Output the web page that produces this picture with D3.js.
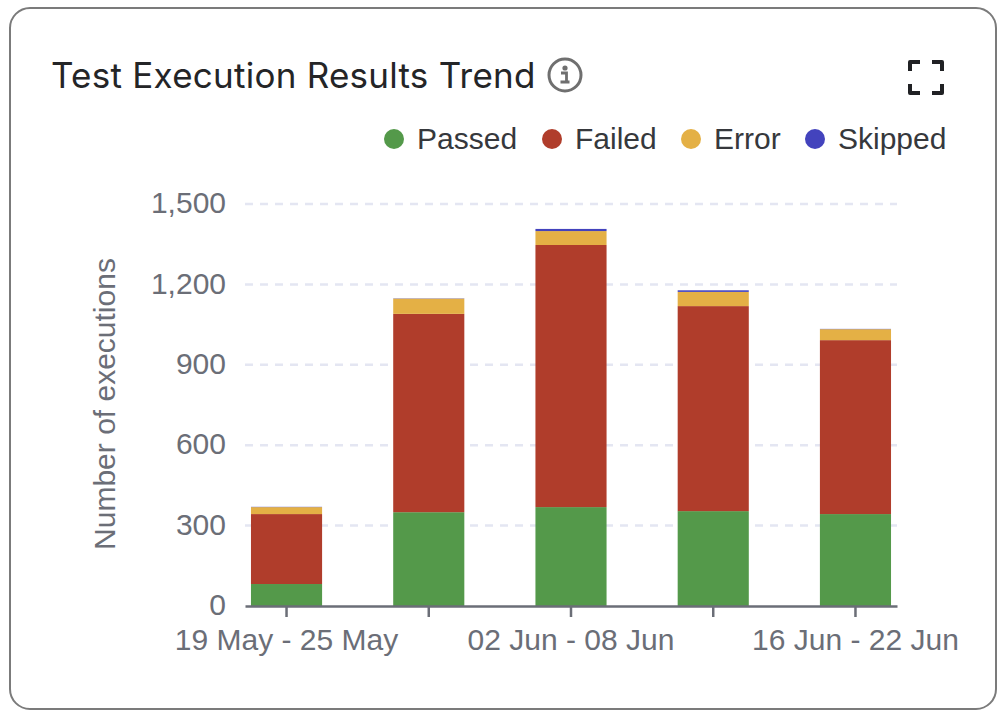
<!DOCTYPE html>
<html>
<head>
<meta charset="utf-8">
<script src="https://cdn.jsdelivr.net/npm/d3@7"></script>
<style>
  html, body { margin: 0; padding: 0; background: #fff; }
  svg { display: block; }
  text { font-family: "Liberation Sans", Arial, sans-serif; }
  .title { font-family: Inter, "Noto Sans", sans-serif; font-size: 35px; font-weight: 400; letter-spacing: 0.25px; fill: #242527; }
  .legend-label { font-size: 30px; fill: #36383c; }
  .axis-label { font-size: 30px; fill: #6b6e77; }
  .axis text { font-size: 30px; fill: #6b6e77; }
</style>
</head>
<body>
<div id="chart"></div>
<script>
var weeks = ['19 May - 25 May', '26 May - 01 Jun', '02 Jun - 08 Jun', '09 Jun - 15 Jun', '16 Jun - 22 Jun'];
var passed = [82, 350, 369, 354, 343];
var failed = [261, 740, 978, 765, 649];
var errors = [26, 57, 52, 53, 41];
var skipped = [1, 1, 8, 6, 1];
var yTicks = [0, 300, 600, 900, 1200, 1500];
var seriesNames = ['Passed', 'Failed', 'Error', 'Skipped'];
var seriesColors = ['#54994a', '#b03d2b', '#e4b045', '#4343bd'];

var width = 1004;
var height = 718;
var margin = {left: 245, right: 107, top: 204, bottom: 112};

var svg = d3.select('#chart').append('svg')
    .attr('width', width)
    .attr('height', height);

// card
svg.append('rect')
    .attr('x', 10).attr('y', 8)
    .attr('width', 986).attr('height', 701)
    .attr('rx', 20)
    .attr('fill', '#fff')
    .attr('stroke', '#7b7b7b')
    .attr('stroke-width', 2);

svg.append('text')
    .attr('class', 'title')
    .attr('x', 51).attr('y', 88)
    .text('Test Execution Results Trend');

// info icon
var info = svg.append('g').attr('transform', 'translate(565,75)');
info.append('circle')
    .attr('r', 16)
    .attr('fill', 'none')
    .attr('stroke', '#6f6f6f')
    .attr('stroke-width', 3);
info.append('circle').attr('cx', 0).attr('cy', -7).attr('r', 2.6).attr('fill', '#6f6f6f');
info.append('path')
    .attr('d', 'M-4,-2H1.5V7H4.5M-4.5,7H4.5')
    .attr('fill', 'none')
    .attr('stroke', '#6f6f6f')
    .attr('stroke-width', 2.8);

// expand icon
svg.append('path')
    .attr('d', 'M910,71V62H920M932,62H942V71M942,84V93H932M920,93H910V84')
    .attr('fill', 'none')
    .attr('stroke', '#202124')
    .attr('stroke-width', 4)
    .attr('stroke-linejoin', 'round');

var x = d3.scaleBand()
    .domain(weeks)
    .range([margin.left, width - margin.right])
    .paddingInner(0.5)
    .paddingOuter(0.042);

var y = d3.scaleLinear()
    .domain([0, 1500])
    .range([height - margin.bottom, margin.top]);

var color = d3.scaleOrdinal().domain(seriesNames).range(seriesColors);

// grid
svg.append('g')
    .selectAll('line')
    .data(yTicks.slice(1))
    .join('line')
    .attr('x1', margin.left)
    .attr('x2', width - margin.right)
    .attr('y1', function(d) { return y(d); })
    .attr('y2', function(d) { return y(d); })
    .attr('stroke', '#e4e6f2')
    .attr('stroke-width', 2.5)
    .attr('stroke-dasharray', '8 7');

// stacked bars
var rows = weeks.map(function(week, i) {
    return {week: week, Passed: passed[i], Failed: failed[i], Error: errors[i], Skipped: skipped[i]};
});
var stacked = d3.stack().keys(seriesNames)(rows);

svg.append('g')
    .selectAll('g')
    .data(stacked)
    .join('g')
    .attr('fill', function(d) { return color(d.key); })
    .selectAll('rect')
    .data(function(d) { return d; })
    .join('rect')
    .attr('x', function(d) { return x(d.data.week); })
    .attr('width', x.bandwidth())
    .attr('y', function(d) { return y(d[1]); })
    .attr('height', function(d) { return y(d[0]) - y(d[1]); });

// axes
var yAxis = d3.axisLeft(y)
    .tickValues(yTicks)
    .tickFormat(d3.format(','))
    .tickSize(0)
    .tickPadding(19);
var yGroup = svg.append('g')
    .attr('class', 'axis')
    .attr('transform', 'translate(' + margin.left + ',-1)')
    .call(yAxis);
yGroup.select('.domain').remove();

var xAxis = d3.axisBottom(x)
    .tickSize(11)
    .tickSizeOuter(0)
    .tickPadding(12)
    .tickFormat(function(d, i) { return i % 2 === 0 ? d : ''; });
var xGroup = svg.append('g')
    .attr('class', 'axis')
    .attr('transform', 'translate(0,' + (height - margin.bottom) + ')')
    .call(xAxis);
xGroup.select('.domain').attr('stroke', '#6b6e77').attr('stroke-width', 2.5);
xGroup.selectAll('.tick line').attr('stroke', '#6b6e77').attr('stroke-width', 2.5);

svg.append('text')
    .attr('class', 'axis-label')
    .attr('text-anchor', 'middle')
    .attr('transform', 'translate(115,404) rotate(-90)')
    .text('Number of executions');

// legend
var legendX = [394, 552, 691, 815];
var legend = svg.append('g')
    .selectAll('g')
    .data(seriesNames)
    .join('g')
    .attr('transform', function(d, i) { return 'translate(' + legendX[i] + ',139)'; });
legend.append('circle')
    .attr('r', 10)
    .attr('fill', function(d) { return color(d); });
legend.append('text')
    .attr('class', 'legend-label')
    .attr('x', 23)
    .attr('y', 10)
    .text(function(d) { return d; });
</script>
</body>
</html>
